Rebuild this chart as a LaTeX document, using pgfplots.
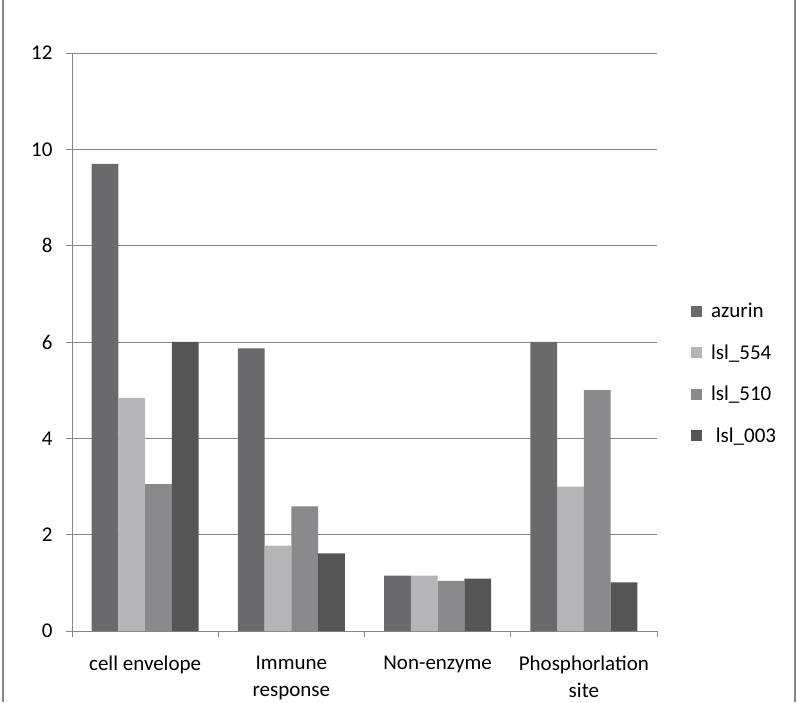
\documentclass[border=0pt]{standalone}
\usepackage{pgfplots}
\pgfplotsset{compat=1.18}
\usepackage{fontspec}
\setmainfont{Carlito}
\definecolor{cA}{RGB}{106,105,107}
\definecolor{cB}{RGB}{181,180,182}
\definecolor{cC}{RGB}{138,137,139}
\definecolor{cD}{RGB}{85,85,86}
\definecolor{axgray}{RGB}{134,134,134}
\begin{document}
\begin{tikzpicture}[x=1pt,y=1pt]
\useasboundingbox (0,0) rectangle (797,702);
\fill[white] (0,0) rectangle (797,702);
\draw[axgray,line width=2pt] (3,0) -- (3,702);
\draw[axgray,line width=2pt] (795,0) -- (795,702);
\begin{axis}[
  at={(72pt,71pt)}, anchor=south west,
  scale only axis, width=585pt, height=578pt,
  ybar=0pt, bar width=26.75pt,
  xmin=-0.5, xmax=3.5, ymin=0, ymax=12,
  ytick={0,2,...,12},
  xtick={0,1,2,3},
  xticklabels={cell envelope, Immune\\response, Non-enzyme, Phosphorlation\\site},
  minor xtick={-0.5,0.5,1.5,2.5,3.5},
  major x tick style={draw=none},
  tick align=outside,
  major tick length=6pt, minor tick length=6pt,
  axis x line*=bottom, axis y line*=left,
  axis line style={axgray, line width=0.9pt},
  every tick/.style={axgray, line width=0.9pt},
  ymajorgrids, grid style={axgray, line width=0.9pt},
  /pgf/number format/assume math mode=true,
  tick label style={font=\fontsize{21}{27}\selectfont, text=black},
  xticklabel style={align=center, yshift=-15pt},
  yticklabel style={xshift=-10pt},
  legend style={draw=none, fill=none, at={(1.058,0.571)}, anchor=north west,
    font=\fontsize{21}{24}\selectfont, row sep=21.4pt, inner sep=0pt,
    /tikz/every odd column/.style={column sep=7pt}},
  legend cell align=left,
  legend image code/.code={\fill[#1] (0pt,-5.5pt) rectangle (11pt,5.5pt);},
]
\addplot[fill=cA, draw=none] coordinates {(0,9.70) (1,5.87) (2,1.15) (3,6.00)};
\addplot[fill=cB, draw=none] coordinates {(0,4.84) (1,1.77) (2,1.15) (3,3.00)};
\addplot[fill=cC, draw=none] coordinates {(0,3.05) (1,2.59) (2,1.04) (3,5.00)};
\addplot[fill=cD, draw=none] coordinates {(0,6.00) (1,1.61) (2,1.09) (3,1.01)};
\legend{azurin, lsl\_554, lsl\_510, \ lsl\_003}
\end{axis}
\end{tikzpicture}
\end{document}
